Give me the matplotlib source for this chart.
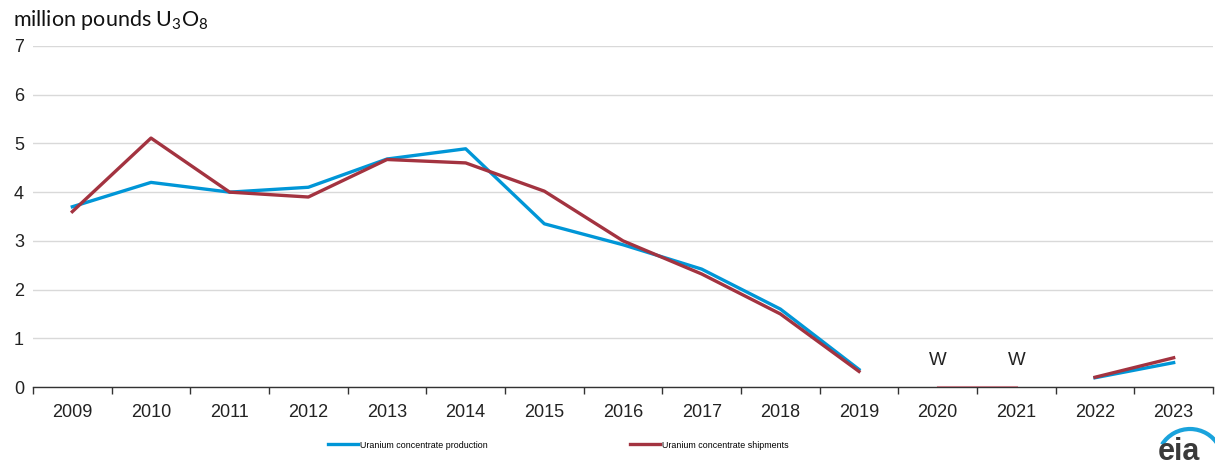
import numpy as np
import matplotlib.pyplot as plt
from matplotlib.patches import Arc

# ---------------------------------------------------
years = ["2009", "2010", "2011", "2012", "2013", "2014", "2015", "2016",
         "2017", "2018", "2019", "2020", "2021", "2022", "2023"]
production = [3.7, 4.2, 4.0, 4.1, 4.68, 4.89, 3.35, 2.92, 2.42, 1.6, 0.36,
              np.nan, np.nan, 0.19, 0.5]
shipments = [3.6, 5.11, 4.0, 3.9, 4.67, 4.6, 4.02, 3.0, 2.32, 1.5, 0.32,
             np.nan, np.nan, 0.2, 0.6]
withheld = ["2020", "2021"]
withheld_values = [0, 0]
yticks = [0, 1, 2, 3, 4, 5, 6, 7]
# ---------------------------------------------------

blue = "#0096D7"
red = "#A33340"

plt.rcParams['font.family'] = ['Liberation Sans', 'DejaVu Sans']
plt.rcParams['mathtext.fontset'] = 'custom'
plt.rcParams['mathtext.rm'] = 'Lato'

fig = plt.figure(figsize=(12.15, 4.68), dpi=100)
ax = fig.add_axes([33 / 1215, 1 - 387 / 468, 1180 / 1215, 341 / 468])

x = np.arange(len(years))
wx = [years.index(y) for y in withheld]

ax.plot(wx, withheld_values, color="#e07080", lw=2.2, zorder=1,
        solid_capstyle='projecting', alpha=0.8)
ax.plot(x, production, color=blue, lw=2.4, zorder=3,
        label="Uranium concentrate production")
ax.plot(x, shipments, color=red, lw=2.4, zorder=4,
        label="Uranium concentrate shipments")

for i in wx:
    ax.text(i, 0.55, "W", ha='center', va='center', fontsize=13.5, color="#222222")

ax.set_xlim(-0.5, len(years) - 0.5)
ax.set_ylim(0, 7)
ax.set_yticks(yticks)
ax.set_xticks(x)
ax.set_xticklabels(years)
ax.set_xticks(np.arange(-0.5, len(years)), minor=True)
ax.tick_params(axis='x', which='major', length=0, pad=12, labelsize=13, labelcolor="#222222")
ax.tick_params(axis='x', which='minor', length=5, width=1, color="#333333", direction='out')
ax.tick_params(axis='y', length=0, labelsize=13, labelcolor="#222222")
for lbl in ax.get_yticklabels():
    lbl.set_horizontalalignment('center')
ax.yaxis.set_tick_params(pad=10)

ax.grid(axis='y', color="#D9D9D9", lw=1)
ax.set_axisbelow(True)
for s in ['top', 'right', 'left']:
    ax.spines[s].set_visible(False)
ax.spines['bottom'].set_color("#333333")
ax.spines['bottom'].set_linewidth(1)
ax.spines['bottom'].set_zorder(2)

fig.text(13 / 1215, 1 - 20 / 468, r"million pounds U$_3$O$_8$", fontsize=15.5,
         family='Lato', va='center', ha='left', color="#111111")

leg = fig.legend(loc='center left', bbox_to_anchor=(328 / 1215, 1 - 445 / 468),
                 ncol=2, frameon=False, fontsize=6.4, handlelength=3.4,
                 handletextpad=0.2, columnspacing=16.0, borderpad=0,
                 borderaxespad=0)

# eia logo
logo_ax = fig.add_axes([1140 / 1215, 0, 75 / 1215, 58 / 468])
logo_ax.set_xlim(1140, 1215)
logo_ax.set_ylim(0, 58)
logo_ax.axis('off')
logo_ax.text(1179, 8, "eia", fontsize=22, fontweight='bold',
             ha='center', va='baseline', color="#3a3a3a")
logo_ax.add_patch(Arc((1190, 6), 66, 66, theta1=30, theta2=148, lw=3,
                      color="#1aa3dc"))

fig.savefig("out.png", dpi=100)
